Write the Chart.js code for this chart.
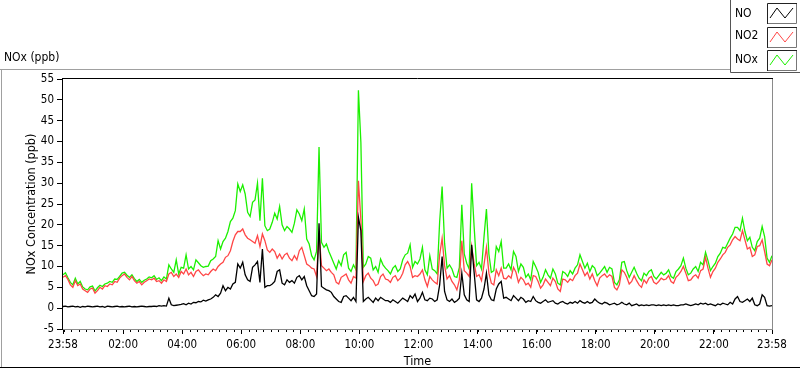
<!DOCTYPE html>
<html>
<head>
<meta charset="utf-8">
<script src="https://cdn.jsdelivr.net/npm/chart.js@4/dist/chart.umd.min.js"></script>
<style>
html,body{margin:0;padding:0;background:#fff;overflow:hidden}
#wrap{position:relative;width:800px;height:369px}
</style>
</head>
<body>
<div id="wrap"><canvas id="c" width="800" height="369"></canvas></div>
<script>
// ---- data (5-minute readings starting at 23:58) ----
const START_TIME = "23:58";
const STEP_MINUTES = 5;
const SERIES_NAMES = ["NO", "NO2", "NOx"];

const NO = [
 0.4,0.5,0.3,0.4,0.5,0.3,0.4,0.2,0.4,0.3,0.5,0.4,
 0.3,0.4,0.5,0.3,0.4,0.2,0.5,0.4,0.3,0.4,0.5,0.3,
 0.4,0.3,0.4,0.5,0.3,0.4,0.3,0.4,0.5,0.4,0.3,0.4,
 0.4,0.5,0.4,0.6,0.5,0.6,0.5,2.4,0.8,0.6,0.7,0.8,
 0.9,1.1,0.8,1.2,1.0,1.4,1.3,1.6,1.5,1.9,1.7,2.0,
 2.2,2.6,3.2,2.8,3.6,5.4,4.2,5.0,4.6,5.8,6.2,10.6,
 9.6,11.0,8.0,6.8,6.4,9.8,10.4,11.2,6.2,14.2,5.0,5.4,
 5.4,5.8,6.4,8.8,9.2,6.0,5.6,6.8,6.2,6.6,6.0,7.4,
 7.8,6.8,7.6,5.4,4.2,3.0,2.8,3.4,20.4,5.2,4.8,4.4,
 4.2,3.8,2.8,2.2,1.6,1.4,2.8,3.0,2.4,1.8,2.6,1.6,
 21.8,18.6,1.6,2.2,2.6,2.0,1.4,2.4,1.8,2.6,2.2,1.8,
 1.8,1.4,2.0,1.6,1.2,1.8,2.4,2.0,1.6,3.0,2.4,3.4,
 1.6,2.4,3.8,2.0,1.8,2.4,2.2,1.6,2.0,5.6,12.4,4.0,
 2.0,1.6,2.2,1.4,1.8,2.4,8.4,3.2,2.0,1.6,15.2,8.6,
 2.0,1.6,2.4,4.6,8.4,3.2,2.0,1.8,4.6,5.8,6.4,2.4,
 2.6,2.2,1.8,3.0,2.4,1.8,2.6,2.2,1.4,1.8,1.6,2.8,
 1.8,1.4,1.2,1.6,2.0,1.4,1.6,1.8,1.2,1.0,1.4,1.6,
 1.2,1.0,1.4,1.2,1.6,1.2,1.8,1.4,1.2,1.6,1.2,1.4,
 2.2,1.6,1.2,1.0,1.4,1.2,0.8,1.0,1.2,0.8,1.0,1.4,
 1.0,0.8,1.2,0.6,0.8,1.0,0.6,0.8,0.6,0.8,0.6,0.8,
 0.8,0.6,0.8,0.6,0.8,0.6,0.8,0.6,0.8,0.6,0.6,0.8,
 0.8,1.0,0.8,0.6,0.8,1.0,0.8,1.2,1.0,1.2,0.8,1.0,
 0.8,0.6,1.0,0.8,1.2,1.0,0.8,1.4,1.0,2.2,2.8,1.6,
 1.4,1.8,2.2,1.6,2.4,0.8,0.6,1.0,3.2,2.6,0.6,0.5,
 0.6
];

const NO2 = [
 7.4,7.8,6.9,5.6,5.0,6.6,5.4,5.8,4.6,4.2,3.8,4.6,
 4.8,3.6,4.2,5.0,4.6,5.4,5.2,5.8,5.6,6.4,6.2,7.2,
 7.8,8.2,7.4,6.8,7.6,6.6,6.0,6.4,5.6,6.2,6.6,7.0,
 6.8,7.2,6.4,6.6,6.0,6.8,6.4,8.2,8.6,7.6,8.2,7.4,
 8.8,8.2,9.4,8.0,8.6,7.6,8.8,9.2,8.4,7.8,8.2,8.0,
 8.8,9.4,9.0,10.0,10.6,11.0,12.2,12.6,13.8,16.0,17.6,18.4,
 18.4,19.0,17.6,16.8,16.4,16.0,15.6,17.4,14.8,17.8,16.2,14.0,
 13.4,14.2,13.6,12.0,13.0,11.8,12.8,13.2,12.0,11.4,12.6,11.6,
 13.8,14.6,12.6,10.6,10.2,9.6,9.4,7.6,18.0,10.2,9.6,9.0,
 9.4,8.6,8.0,6.2,5.8,7.4,7.8,8.2,6.8,6.0,7.6,7.2,
 30.6,21.2,6.4,7.8,8.4,7.2,6.6,5.4,5.8,7.6,8.2,7.0,
 6.8,6.2,7.4,7.8,6.6,7.2,8.4,10.4,11.2,10.0,7.4,7.8,
 7.6,8.2,9.2,6.8,5.2,7.6,6.8,6.2,5.8,12.8,16.8,10.2,
 7.0,7.8,6.4,5.6,4.4,6.8,16.2,9.0,8.4,7.6,14.8,10.8,
 7.6,8.0,6.6,10.4,14.6,8.4,6.0,5.6,9.2,7.8,9.6,7.2,
 7.0,7.8,7.2,9.8,8.6,6.2,7.4,6.8,5.6,6.0,5.0,7.8,
 7.6,6.4,4.8,5.6,7.0,6.2,5.4,7.2,6.4,4.6,4.0,7.0,
 6.8,6.2,7.0,6.6,7.8,8.4,10.6,9.2,7.8,8.6,7.0,8.2,
 6.6,5.4,7.2,7.8,8.2,7.4,8.0,7.6,5.0,4.4,5.6,9.2,
 8.6,7.4,5.8,6.4,7.8,6.6,5.6,5.0,6.8,6.0,7.2,7.6,
 6.2,5.8,6.4,7.2,6.8,7.0,7.8,6.4,6.0,7.4,8.0,8.8,
 10.0,8.4,6.6,6.8,7.6,8.0,7.2,9.0,9.4,12.2,9.6,7.4,
 8.8,9.6,11.0,11.8,12.8,13.4,14.6,15.2,16.4,17.2,16.6,16.2,
 18.6,16.4,14.2,14.6,12.4,12.8,14.8,15.0,16.4,13.6,10.6,10.2,
 11.6
];

const NOX = [
 8.0,8.5,7.3,6.2,5.6,7.2,5.8,6.4,5.1,4.6,4.4,5.1,
 5.3,4.1,4.9,5.5,5.2,5.8,6.0,6.4,6.2,7.0,6.9,7.6,
 8.4,8.6,7.9,7.4,8.0,7.1,6.4,6.9,6.2,6.7,7.0,7.5,
 7.3,7.8,6.9,7.3,6.6,7.5,7.0,10.4,9.4,8.6,11.6,8.2,
 9.8,9.6,12.8,9.4,10.0,9.2,11.6,10.9,10.2,9.8,10.0,10.1,
 11.4,11.8,12.4,16.2,14.2,16.0,16.8,18.4,20.8,21.6,23.4,29.8,
 28.0,29.6,27.4,23.0,22.0,25.4,26.0,30.0,21.0,31.2,19.8,18.6,
 19.0,20.6,22.8,21.4,24.4,20.0,18.6,19.6,19.0,18.2,20.4,23.6,
 22.6,21.0,23.8,16.6,15.4,12.6,11.6,13.6,38.7,15.8,14.6,15.4,
 13.6,12.2,10.8,9.4,11.4,10.2,12.8,13.4,9.6,8.8,10.4,9.2,
 52.3,39.8,9.8,10.6,12.4,12.0,9.2,10.0,8.6,11.8,10.4,9.6,
 9.0,8.2,9.6,10.2,8.8,9.4,11.6,12.8,13.2,15.2,9.8,11.2,
 10.6,11.8,14.6,9.2,8.0,12.6,9.4,9.0,8.2,20.8,29.2,15.6,
 9.6,10.4,9.4,7.6,7.4,9.8,24.8,13.0,10.8,9.4,30.0,19.6,
 10.2,11.0,9.4,17.0,23.8,13.0,8.6,9.0,14.8,13.6,16.0,9.6,
 9.6,10.6,9.2,13.6,12.4,8.8,10.6,9.8,7.4,8.2,6.8,11.2,
 10.0,8.6,6.2,7.4,9.2,8.0,7.2,9.4,8.2,6.0,5.6,8.8,
 8.4,7.6,9.0,8.2,9.6,10.4,12.8,11.2,9.6,10.8,8.8,10.2,
 9.6,7.8,8.4,9.2,10.0,8.6,9.8,9.4,6.2,5.6,6.8,11.0,
 11.2,9.0,7.4,8.6,9.8,8.4,7.2,6.6,8.4,7.8,8.8,9.2,
 7.6,7.0,7.8,8.6,8.0,8.4,9.2,7.6,7.2,8.8,9.4,10.2,
 12.0,9.6,8.0,8.4,9.4,10.0,8.8,11.0,10.4,13.4,11.4,9.0,
 10.0,10.8,12.4,13.2,14.6,14.4,15.6,16.8,17.8,19.4,19.4,18.6,
 21.6,18.4,16.2,17.0,14.6,13.8,16.0,16.8,19.6,17.2,12.0,11.0,
 12.6
];

const X_TICK_LABELS = ["23:58","02:00","04:00","06:00","08:00","10:00","12:00",
                       "14:00","16:00","18:00","20:00","22:00","23:58"];
const Y_MIN = -5, Y_MAX = 55, Y_STEP = 5;
const Y_TITLE = "NOx Concentration (ppb)";
const X_TITLE = "Time";
const PANEL_TITLE = "NOx (ppb)";

// ---- derived helpers ----
const toMin = s => { const [h, m] = s.split(":").map(Number); return h * 60 + m; };
const START_MIN = toMin(START_TIME);
const SPAN = 1440;
const X_TICK_VALUES = X_TICK_LABELS.map((l, i) =>
  i === X_TICK_LABELS.length - 1 ? SPAN : ((toMin(l) - START_MIN + SPAN) % SPAN));
const pts = arr => arr.map((v, i) => ({ x: i * STEP_MINUTES, y: v }));

const FONT = "'DejaVu Sans Condensed', 'Liberation Sans', Arial, sans-serif";
const COLORS = ["#000000", "#ff4646", "#1cf000"];

const framePlugin = {
  id: 'frame',
  beforeDraw(chart) {
    const ctx = chart.ctx;
    ctx.save();
    ctx.fillStyle = '#fff';
    ctx.fillRect(0, 0, chart.width, chart.height);
    ctx.lineWidth = 1;
    ctx.strokeStyle = '#a0a0a0';
    ctx.beginPath();
    ctx.moveTo(0, 69.5); ctx.lineTo(752, 69.5);
    ctx.moveTo(1.5, 69); ctx.lineTo(1.5, 367);
    ctx.stroke();
    ctx.strokeStyle = '#000';
    ctx.beginPath();
    ctx.moveTo(0, 367.5); ctx.lineTo(800, 367.5);
    ctx.stroke();
    ctx.fillStyle = '#000';
    ctx.font = "12px " + FONT;
    ctx.textBaseline = 'middle';
    ctx.textAlign = 'left';
    ctx.fillText(PANEL_TITLE, 4, 58);
    ctx.restore();
  },
  afterDatasetsDraw(chart) {
    const ctx = chart.ctx, a = chart.chartArea, xs = chart.scales.x;
    ctx.save();
    ctx.lineWidth = 1;
    ctx.strokeStyle = '#000';
    ctx.beginPath();
    const first = (15 - (START_MIN % 15)) % 15;
    for (let m = first; m <= SPAN; m += 15) {
      const px = Math.round(xs.getPixelForValue(m)) + 0.5;
      ctx.moveTo(px, a.bottom); ctx.lineTo(px, a.bottom + 3);
    }
    ctx.stroke();
    ctx.strokeStyle = '#000';
    ctx.beginPath();
    ctx.moveTo(a.left - 1, a.top - 0.5); ctx.lineTo(a.right + 1, a.top - 0.5);
    ctx.moveTo(a.left - 0.5, a.top - 1); ctx.lineTo(a.left - 0.5, a.bottom + 1);
    ctx.stroke();
    ctx.strokeStyle = '#8a8a8a';
    ctx.beginPath();
    ctx.moveTo(a.left, a.bottom + 0.5); ctx.lineTo(a.right + 1, a.bottom + 0.5);
    ctx.moveTo(a.right + 0.5, a.top); ctx.lineTo(a.right + 0.5, a.bottom + 1);
    ctx.stroke();
    ctx.restore();
  },
  afterDraw(chart) {
    const ctx = chart.ctx;
    ctx.save();
    ctx.fillStyle = '#fff';
    ctx.fillRect(731, 0, 69, 72);
    ctx.lineWidth = 1;
    ctx.strokeStyle = '#555';
    ctx.beginPath();
    ctx.moveTo(730.5, 0); ctx.lineTo(730.5, 72.5); ctx.lineTo(800, 72.5);
    ctx.stroke();
    const boxY = [3, 27, 50];
    const textY = [13.5, 36, 59.5];
    ctx.font = "12px " + FONT;
    ctx.textBaseline = 'middle';
    ctx.textAlign = 'left';
    chart.data.datasets.forEach((ds, i) => {
      ctx.fillStyle = '#000';
      ctx.fillText(ds.label, 735, textY[i]);
      const bx = 767, by = boxY[i];
      ctx.fillStyle = '#fff';
      ctx.fillRect(bx, by, 30, 21);
      ctx.lineWidth = 1;
      ctx.strokeStyle = '#222';
      ctx.beginPath();
      ctx.moveTo(bx + 0.5, by + 21); ctx.lineTo(bx + 0.5, by + 0.5); ctx.lineTo(bx + 30, by + 0.5);
      ctx.stroke();
      ctx.strokeStyle = '#777';
      ctx.beginPath();
      ctx.moveTo(bx + 29.5, by + 1); ctx.lineTo(bx + 29.5, by + 20.5); ctx.lineTo(bx + 1, by + 20.5);
      ctx.stroke();
      ctx.strokeStyle = ds.borderColor;
      ctx.beginPath();
      ctx.moveTo(bx + 3, by + 15); ctx.lineTo(bx + 10, by + 5);
      ctx.lineTo(bx + 18, by + 15); ctx.lineTo(bx + 26, by + 5);
      ctx.stroke();
    });
    ctx.restore();
  }
};

const seriesData = [NO, NO2, NOX];
new Chart(document.getElementById('c'), {
  type: 'line',
  data: {
    datasets: SERIES_NAMES.map((name, i) => ({
      label: name,
      data: pts(seriesData[i]),
      borderColor: COLORS[i],
      backgroundColor: COLORS[i],
      borderWidth: 1.3,
      pointRadius: 0,
      tension: 0,
      fill: false
    }))
  },
  options: {
    responsive: false,
    animation: false,
    devicePixelRatio: 1,
    layout: { padding: { top: 79, right: 28, bottom: 0, left: 0 } },
    plugins: { legend: { display: false }, tooltip: { enabled: false }, title: { display: false } },
    scales: {
      x: {
        type: 'linear', min: 0, max: SPAN,
        afterBuildTicks: s => { s.ticks = X_TICK_VALUES.map(v => ({ value: v })); },
        afterFit: s => { s.height = 40; },
        ticks: {
          autoSkip: false, maxRotation: 0, minRotation: 0, padding: 4, color: '#000',
          font: { family: FONT, size: 11.5 },
          callback: (v, i) => X_TICK_LABELS[i]
        },
        grid: { display: true, drawOnChartArea: false, drawTicks: true, tickLength: 5, tickColor: '#000', tickWidth: 1 },
        border: { display: false },
        title: { display: true, text: X_TITLE, color: '#000', font: { family: FONT, size: 12.5 }, padding: { top: 0, bottom: 0 } }
      },
      y: {
        min: Y_MIN, max: Y_MAX,
        afterFit: s => { s.width = 63; },
        ticks: { stepSize: Y_STEP, padding: 3, color: '#000', font: { family: FONT, size: 11.5 } },
        grid: { display: true, drawOnChartArea: false, drawTicks: true, tickLength: 6, tickColor: '#000' },
        border: { display: false },
        title: { display: true, text: Y_TITLE, color: '#000', font: { family: FONT, size: 12.5 }, padding: { top: 24, bottom: 0 } }
      }
    }
  },
  plugins: [framePlugin]
});
</script>
</body>
</html>
